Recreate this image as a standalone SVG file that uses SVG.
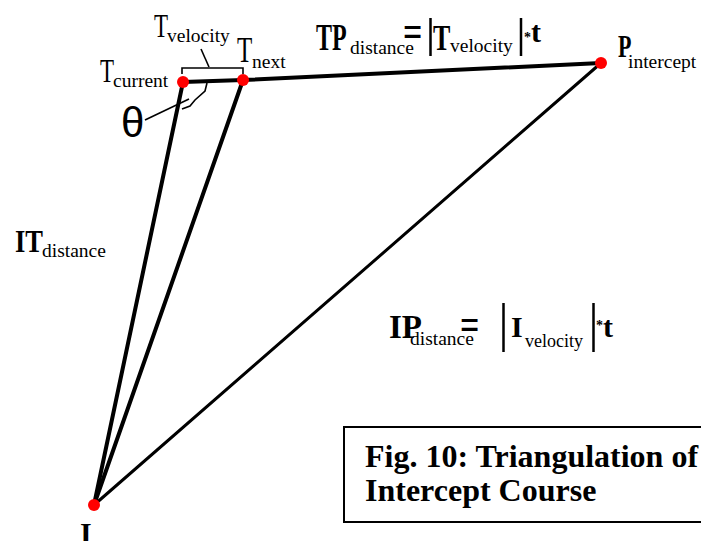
<svg xmlns="http://www.w3.org/2000/svg" width="701" height="541" viewBox="0 0 701 541">
<style>
text{font-family:"Liberation Serif","Times New Roman",serif;fill:#000}
.sub{font-size:19.5px}
.b{font-weight:bold}
.thick{stroke:#000;stroke-width:4;stroke-linecap:round;fill:none}
.mid{stroke:#000;stroke-width:3;stroke-linecap:round;fill:none}
.thin{stroke:#000;stroke-width:1.6;fill:none}
.bar{stroke:#000;stroke-width:2.5}
.dot{fill:#ff0000}
</style>
<rect width="701" height="541" fill="#fff"/>
<g id="connectors">
<line class="thick" x1="183" y1="82" x2="94" y2="505"/>
<line class="thick" x1="243" y1="80" x2="94" y2="505"/>
<polyline class="thick" points="183,82 243,80 601,63"/>
<line class="mid" x1="601" y1="63" x2="94" y2="505"/>
</g>
<g id="bracket">
<polyline class="thin" points="182,74 182,68 243,68 243,74"/>
<line class="thin" x1="209" y1="67" x2="201" y2="49"/>
</g>
<g id="theta">
<polyline class="thin" points="207,83 205,91 195,100 190,106 182,109"/>
<line class="thin" x1="145" y1="120" x2="189" y2="99"/>
<text x="121" y="137" style="font-family:'Liberation Sans',Arial,sans-serif;font-size:42px">θ</text>
</g>
<g id="node-tcurrent">
<circle class="dot" cx="183" cy="82" r="6"/>
<text transform="translate(100,82) scale(1,1.45)" style="font-size:23px">T</text>
<text class="sub" x="113" y="87">current</text>
</g>
<g id="node-tnext">
<circle class="dot" cx="243" cy="80" r="6"/>
<text transform="translate(237,62) scale(1,1.4)" style="font-size:25px">T</text>
<text class="sub" x="252" y="68">next</text>
</g>
<g id="label-tvelocity">
<text transform="translate(154,37) scale(1,1.45)" style="font-size:23px">T</text>
<text class="sub" x="167" y="42">velocity</text>
</g>
<g id="node-pintercept">
<circle class="dot" cx="601" cy="63" r="6"/>
<text class="b" transform="translate(618,57) scale(1,1.45)" style="font-size:22px">P</text>
<text class="sub" x="628" y="68">intercept</text>
</g>
<g id="node-i">
<circle class="dot" cx="94" cy="505" r="6"/>
<text class="b" x="80" y="543" style="font-size:30px">I</text>
</g>
<g id="label-tp">
<text class="b" transform="translate(316,50) scale(1,1.55)" style="font-size:24px">TP</text>
<text class="sub" x="350" y="54">distance</text>
<text class="b" transform="translate(403,46) scale(1,1.3)" style="font-size:34px">=</text>
<line class="bar" x1="430.5" y1="18" x2="430.5" y2="56"/>
<text class="b" transform="translate(433,50) scale(1,1.34)" style="font-size:26px">T</text>
<text class="sub" x="450" y="52">velocity</text>
<line class="bar" x1="521" y1="18" x2="521" y2="56"/>
<text class="b" x="524" y="42" style="font-size:14px">*</text>
<text class="b" x="531" y="42" style="font-size:30px">t</text>
</g>
<g id="label-it">
<text class="b" transform="translate(15,252) scale(1,1.23)" style="font-size:26.5px">IT</text>
<text class="sub" x="42" y="257">distance</text>
</g>
<g id="label-ip">
<text class="b" x="389" y="338" style="font-size:33px">IP</text>
<text class="sub" x="410" y="345">distance</text>
<text class="b" transform="translate(460,339) scale(1,1.3)" style="font-size:34px">=</text>
<line class="bar" x1="503.5" y1="303" x2="503.5" y2="352"/>
<text class="b" x="511" y="337" style="font-size:30px">I</text>
<text class="sub" x="525" y="347" style="font-size:18px">velocity</text>
<line class="bar" x1="593.5" y1="303" x2="593.5" y2="352"/>
<text class="b" x="596" y="330" style="font-size:14px">*</text>
<text class="b" x="603" y="337" style="font-size:30px">t</text>
</g>
<g id="caption">
<rect x="344" y="427" width="420" height="95" fill="none" stroke="#000" stroke-width="2"/>
<text class="b" x="365" y="467" style="font-size:32px">Fig. 10: Triangulation of</text>
<text class="b" x="365" y="501" style="font-size:32px">Intercept Course</text>
</g>
</svg>
